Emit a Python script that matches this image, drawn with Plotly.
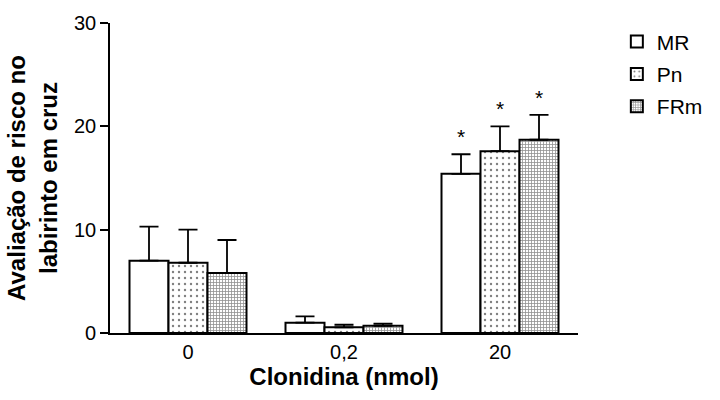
import plotly.graph_objects as go

# Doses of clonidine (x categories)
doses = ["0", "0,2", "20"]

# Group means and SEM (upper error only)
mr_mean = [7.0, 1.0, 15.4]
mr_err = [3.3, 0.6, 1.9]
pn_mean = [6.8, 0.55, 17.6]
pn_err = [3.2, 0.25, 2.4]
frm_mean = [5.8, 0.7, 18.7]
frm_err = [3.2, 0.2, 2.4]

# Groups marked as significantly different
sig_mr = [False, False, True]
sig_pn = [False, False, True]
sig_frm = [False, False, True]

series = [
    ("MR", mr_mean, mr_err, sig_mr, dict(shape="", fgcolor="black")),
    ("Pn", pn_mean, pn_err, sig_pn, dict(shape=".", size=6, solidity=0.12, fgcolor="black", bgcolor="white")),
    ("FRm", frm_mean, frm_err, sig_frm, dict(shape="+", size=3, solidity=0.45, fgcolor="#222222", bgcolor="white")),
]

FONT = "Arial, Liberation Sans, sans-serif"

fig = go.Figure()
for i, (name, mean, err, sig, pattern) in enumerate(series):
    fig.add_trace(go.Bar(
        name=name,
        x=doses,
        y=mean,
        marker=dict(color="white", line=dict(color="black", width=2), pattern=pattern),
        error_y=dict(type="data", symmetric=False, array=err, arrayminus=[0] * len(err),
                     color="black", thickness=1.8, width=9.5),
        offsetgroup=str(i),
        legendgroup=name,
    ))

# Significance asterisks above the error bars
offsets = {"MR": -1, "Pn": 0, "FRm": 1}
for name, mean, err, sig, _ in series:
    for j, flag in enumerate(sig):
        if flag:
            fig.add_annotation(
                x=j + offsets[name] * 0.25, xref="x",
                y=mean[j] + err[j], yref="y",
                text="*", showarrow=False,
                yanchor="bottom", yshift=4,
                font=dict(family=FONT, size=21, color="black"),
            )

fig.update_layout(
    width=720, height=400,
    margin=dict(l=110, r=140, t=20, b=67),
    plot_bgcolor="white", paper_bgcolor="white",
    barmode="group", bargap=0.25, bargroupgap=0,
    font=dict(family=FONT, color="black"),
    showlegend=True,
    legend=dict(x=1.083, y=1.005, xanchor="left", yanchor="top",
                font=dict(family=FONT, size=21), tracegroupgap=2,
                bgcolor="rgba(0,0,0,0)"),
    xaxis=dict(
        type="category", range=[-0.5, 2.5],
        showline=True, linecolor="black", linewidth=1.6,
        ticks="", tickfont=dict(family=FONT, size=20),
        title=dict(text="<b>Clonidina (nmol)</b>", font=dict(family=FONT, size=24), standoff=2),
        showgrid=False, zeroline=False,
    ),
    yaxis=dict(
        range=[0, 30], tickvals=[0, 10, 20, 30],
        showline=True, linecolor="black", linewidth=1.6,
        ticks="outside", ticklen=8, tickwidth=1.5, tickcolor="black",
        tickfont=dict(family=FONT, size=20),
        title=dict(text="<b>Avaliação de risco no<br>labirinto em cruz</b>",
                   font=dict(family=FONT, size=24), standoff=10),
        showgrid=False, zeroline=False,
    ),
)

fig.write_html("out.html")
